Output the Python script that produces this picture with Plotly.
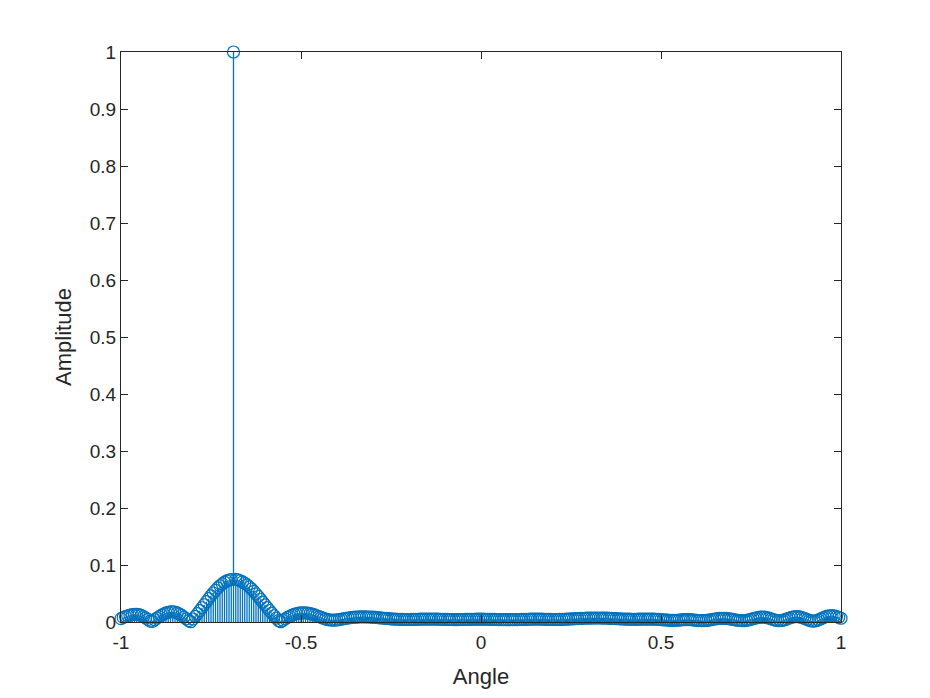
import numpy as np
import plotly.graph_objects as go

# stem plot of normalised amplitude vs angle, one sample every 1/160
ANGLE_MIN = -1.0
ANGLE_MAX = 1.0

AMPLITUDE = [
    0.006, 0.008, 0.0095, 0.011, 0.012, 0.013, 0.0135, 0.0135, 0.013, 0.0115,
    0.0095, 0.007, 0.0045, 0.0015, 0.001, 0.004, 0.007, 0.0095, 0.012, 0.014,
    0.016, 0.017, 0.018, 0.018, 0.0175, 0.016, 0.014, 0.0115, 0.0085, 0.0055,
    0.0025, 0.0005, 0.0053, 0.0099, 0.0147, 0.0198, 0.025, 0.0303, 0.0356, 0.0409,
    0.046, 0.0509, 0.0555, 0.0598, 0.0636, 0.067, 0.0698, 0.072, 0.0737, 0.0746,
    1.0, 0.0747, 0.0738, 0.0724, 0.0705, 0.068, 0.065, 0.0617, 0.0579, 0.0538,
    0.0493, 0.0447, 0.0399, 0.035, 0.030, 0.0251, 0.0202, 0.0155, 0.011, 0.0067,
    0.0026, 0.0005, 0.003, 0.0055, 0.008, 0.010, 0.012, 0.0135, 0.0148, 0.0155,
    0.016, 0.016, 0.016, 0.0155, 0.0148, 0.0138, 0.0125, 0.011, 0.0095, 0.008,
    0.0065, 0.0052, 0.0042, 0.0035, 0.0032, 0.0033, 0.0037, 0.0043, 0.005, 0.0057,
    0.0064, 0.007, 0.0076, 0.008, 0.0084, 0.0087, 0.0089, 0.009, 0.009, 0.0089,
    0.0088, 0.0086, 0.0084, 0.0081, 0.0078, 0.0074, 0.007, 0.0066, 0.0062, 0.0058,
    0.0055, 0.0052, 0.005, 0.0048, 0.0046, 0.0045, 0.0044, 0.0044, 0.0044, 0.0045,
    0.0046, 0.0047, 0.0048, 0.0049, 0.005, 0.005, 0.0051, 0.0051, 0.0051, 0.005,
    0.005, 0.0049, 0.0048, 0.0047, 0.0046, 0.0045, 0.0044, 0.0044, 0.0043, 0.0043,
    0.0043, 0.0044, 0.0044, 0.0045, 0.0046, 0.0047, 0.0048, 0.0048, 0.0049, 0.0049,
    0.0049, 0.0049, 0.0048, 0.0048, 0.0047, 0.0046, 0.0045, 0.0044, 0.0043, 0.0042,
    0.0042, 0.0041, 0.0041, 0.0041, 0.0042, 0.0042, 0.0043, 0.0044, 0.0045, 0.0046,
    0.0047, 0.0048, 0.0049, 0.005, 0.005, 0.005, 0.005, 0.0049, 0.0048, 0.0047,
    0.0046, 0.0045, 0.0044, 0.0044, 0.0044, 0.0045, 0.0046, 0.0048, 0.005, 0.0052,
    0.0054, 0.0056, 0.0058, 0.006, 0.0062, 0.0064, 0.0066, 0.0067, 0.0068, 0.0069,
    0.007, 0.007, 0.007, 0.007, 0.0069, 0.0068, 0.0067, 0.0065, 0.0063, 0.0061,
    0.0059, 0.0057, 0.0055, 0.0053, 0.0051, 0.005, 0.0049, 0.0048, 0.0048, 0.0048,
    0.0049, 0.005, 0.0051, 0.0052, 0.0052, 0.0052, 0.0051, 0.005, 0.0048, 0.0045,
    0.0042, 0.0039, 0.0036, 0.0033, 0.0031, 0.003, 0.003, 0.0031, 0.0034, 0.0037,
    0.004, 0.0042, 0.0042, 0.0041, 0.0038, 0.0034, 0.003, 0.0026, 0.0024, 0.0024,
    0.0027, 0.0032, 0.0039, 0.0046, 0.0053, 0.0059, 0.0063, 0.0065, 0.0065, 0.0063,
    0.0058, 0.0052, 0.0045, 0.0038, 0.0031, 0.0026, 0.0024, 0.0025, 0.003, 0.0038,
    0.0048, 0.0058, 0.0069, 0.0078, 0.0084, 0.0086, 0.0084, 0.0078, 0.0068, 0.0056,
    0.0043, 0.0031, 0.0024, 0.0023, 0.0029, 0.004, 0.0055, 0.007, 0.0083, 0.0092,
    0.0096, 0.0094, 0.0087, 0.0075, 0.006, 0.0043, 0.0028, 0.0018, 0.0016, 0.0023,
    0.0037, 0.0055, 0.0074, 0.0091, 0.0103, 0.011, 0.0111, 0.0106, 0.0096, 0.0082,
    0.0066,
]

X_TICKS = [-1, -0.5, 0, 0.5, 1]
X_TICK_TEXT = ["-1", "-0.5", "0", "0.5", "1"]
Y_TICKS = [0, 0.1, 0.2, 0.3, 0.4, 0.5, 0.6, 0.7, 0.8, 0.9, 1]
Y_TICK_TEXT = ["0", "0.1", "0.2", "0.3", "0.4", "0.5", "0.6", "0.7", "0.8", "0.9", "1"]

BLUE = "#0072BD"
AXIS = "#262626"
FONT = "Liberation Sans, Arial, Helvetica, sans-serif"

angle = np.linspace(ANGLE_MIN, ANGLE_MAX, len(AMPLITUDE))
amp = np.asarray(AMPLITUDE, dtype=float)

# stems: one vertical segment per sample, separated by gaps
stem_x = np.column_stack([angle, angle, np.full_like(angle, np.nan)]).ravel()
stem_y = np.column_stack([np.zeros_like(amp), amp, np.full_like(amp, np.nan)]).ravel()

fig = go.Figure()
fig.add_trace(go.Scatter(
    x=stem_x, y=stem_y, mode="lines",
    line=dict(color=BLUE, width=1.3),
    connectgaps=False, hoverinfo="skip", showlegend=False,
))
fig.add_trace(go.Scatter(
    x=angle, y=amp, mode="markers",
    marker=dict(symbol="circle-open", size=12, color=BLUE, line=dict(width=1.2, color=BLUE)),
    cliponaxis=False, showlegend=False,
))

axis_common = dict(
    showline=True, linecolor=AXIS, linewidth=1, mirror="ticks",
    ticks="inside", ticklen=7, tickcolor=AXIS, tickwidth=1,
    showgrid=False, zeroline=False,
    tickfont=dict(family=FONT, size=19, color=AXIS),
    title_font=dict(family=FONT, size=22, color=AXIS),
)

fig.update_xaxes(
    range=[ANGLE_MIN, ANGLE_MAX], tickvals=X_TICKS, ticktext=X_TICK_TEXT,
    ticklabelstandoff=3,
    title_text="Angle", title_standoff=16, **axis_common,
)
fig.update_yaxes(
    range=[0, 1], tickvals=Y_TICKS, ticktext=Y_TICK_TEXT,
    title_text="Amplitude", title_standoff=12, **axis_common,
)

# the page body adds an 8 px offset, so the figure is sized to sit inside the window
fig.update_layout(
    width=922, height=690,
    paper_bgcolor="white", plot_bgcolor="white",
    margin=dict(l=113, r=89, t=44, b=76),
    font=dict(family=FONT, color=AXIS),
)

fig.write_html("out.html")
